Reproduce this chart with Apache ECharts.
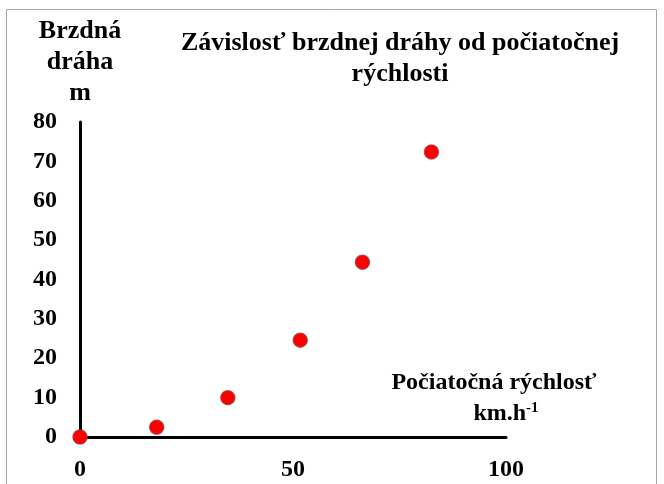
<!DOCTYPE html>
<html>
<head>
<meta charset="utf-8">
<script src="https://cdn.jsdelivr.net/npm/echarts@6/dist/echarts.min.js"></script>
<style>
  html, body { margin: 0; padding: 0; background: #ffffff; }
  #chart { width: 664px; height: 484px; }
</style>
</head>
<body>
<div id="chart"></div>
<script>
// Počiatočná rýchlosť (km/h) a zodpovedajúca brzdná dráha (m)
const speeds = [0, 18, 34.7, 51.7, 66.3, 82.5];
const distances = [0, 2.5, 10, 24.6, 44.4, 72.4];
const xTicks = [0, 50, 100];
const yTicks = [0, 10, 20, 30, 40, 50, 60, 70, 80];

const chartTitle = 'Závislosť brzdnej dráhy od počiatočnej\nrýchlosti';
const yName = 'Brzdná\ndráha\nm';
const xNameLine1 = 'Počiatočná rýchlosť';

const serif = '"Liberation Serif", "Times New Roman", serif';
const points = speeds.map((v, i) => [v, distances[i]]);

const chart = echarts.init(document.getElementById('chart'));
chart.setOption({
  backgroundColor: '#ffffff',
  animation: false,
  title: {
    text: chartTitle,
    left: 395,
    top: 23,
    textAlign: 'center',
    textStyle: {
      fontFamily: serif, fontWeight: 'bold', fontSize: 26,
      color: '#000', lineHeight: 31, align: 'center'
    }
  },
  grid: { left: 80, right: 158, top: 122, bottom: 47, containLabel: false },
  xAxis: {
    type: 'value',
    min: xTicks[0],
    max: xTicks[xTicks.length - 1],
    interval: xTicks[1] - xTicks[0],
    axisLine: { show: true, lineStyle: { color: '#000', width: 3 } },
    axisTick: { show: false },
    splitLine: { show: false },
    axisLabel: {
      margin: 21, color: '#000', fontFamily: serif, fontWeight: 'bold', fontSize: 24
    }
  },
  yAxis: {
    type: 'value',
    min: yTicks[0],
    max: yTicks[yTicks.length - 1],
    interval: yTicks[1] - yTicks[0],
    name: yName,
    nameLocation: 'end',
    nameGap: 13,
    nameTextStyle: {
      fontFamily: serif, fontWeight: 'bold', fontSize: 26, color: '#000',
      lineHeight: 31, align: 'center'
    },
    axisLine: { show: true, lineStyle: { color: '#000', width: 3 } },
    axisTick: { show: false },
    splitLine: { show: false },
    axisLabel: {
      margin: 23, color: '#000', fontFamily: serif, fontWeight: 'bold', fontSize: 24
    }
  },
  graphic: [
    {
      type: 'rect',
      silent: true,
      z: -10,
      shape: { x: 6.5, y: 9.5, width: 650, height: 500 },
      style: { fill: 'none', stroke: '#a6a6a6', lineWidth: 1 }
    },
    {
      type: 'text',
      silent: true,
      x: 494,
      y: 383,
      style: {
        text: xNameLine1,
        fill: '#000',
        font: 'bold 24px ' + serif,
        textAlign: 'center',
        textVerticalAlign: 'middle'
      }
    },
    {
      type: 'text',
      silent: true,
      x: 506,
      y: 414,
      style: {
        text: '{b|km.h}{s|-1}',
        textAlign: 'center',
        textVerticalAlign: 'middle',
        rich: {
          b: { fontFamily: serif, fontWeight: 'bold', fontSize: 24, fill: '#000', color: '#000' },
          s: { fontFamily: serif, fontWeight: 'bold', fontSize: 15, fill: '#000', color: '#000', verticalAlign: 'top', padding: [0, 0, 12, 0] }
        }
      }
    }
  ],
  series: [{
    type: 'scatter',
    data: points,
    symbol: 'circle',
    symbolSize: 14,
    clip: false,
    z: 5,
    itemStyle: {
      color: '#ff0000',
      borderColor: 'rgba(170, 40, 40, 0.75)',
      borderWidth: 1.5,
      opacity: 1
    }
  }]
});
</script>
</body>
</html>
